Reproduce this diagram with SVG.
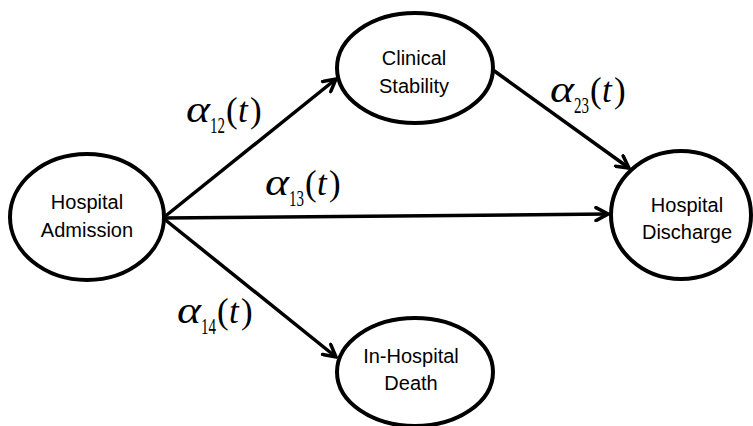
<svg xmlns="http://www.w3.org/2000/svg" width="753" height="426" viewBox="0 0 753 426">
<style>
.node ellipse{fill:#fff;stroke:#000;stroke-width:4}
.lbl{font-family:"Liberation Sans",Arial,sans-serif;font-size:20px;fill:#000;text-anchor:middle}
.edge{stroke:#000;stroke-width:3.5;fill:none}
.math{font-family:"Liberation Serif","Times New Roman",serif;fill:#000;font-size:35px}
.al{font-size:37px;font-style:italic}
.sub{font-size:24px}
.it{font-style:italic}
</style>
<defs>
<marker id="arr" viewBox="0 0 16 16" refX="14" refY="8" markerWidth="16" markerHeight="16" markerUnits="userSpaceOnUse" orient="auto">
<path d="M2,1.5 L14,8 L2,14.5" fill="none" stroke="#000" stroke-width="3.5" stroke-linecap="round" stroke-linejoin="miter"/>
</marker>
</defs>
<rect width="753" height="426" fill="#fff"/>
<g id="connectors">
<line class="edge" x1="163" y1="218" x2="336" y2="79" marker-end="url(#arr)"/>
<line class="edge" x1="163" y1="218" x2="608" y2="214" marker-end="url(#arr)"/>
<line class="edge" x1="163" y1="218" x2="336" y2="357" marker-end="url(#arr)"/>
<line class="edge" x1="493" y1="70" x2="629" y2="168" marker-end="url(#arr)"/>
</g>
<g id="node-admission" class="node">
<ellipse cx="87" cy="217" rx="77" ry="63"/>
<text class="lbl" x="87" y="209">Hospital</text>
<text class="lbl" x="87" y="237">Admission</text>
</g>
<g id="node-clinical" class="node">
<ellipse cx="415" cy="68" rx="78" ry="55"/>
<text class="lbl" x="414" y="65">Clinical</text>
<text class="lbl" x="414" y="93">Stability</text>
</g>
<g id="node-discharge" class="node">
<ellipse cx="681" cy="215" rx="70" ry="64"/>
<text class="lbl" x="687" y="212">Hospital</text>
<text class="lbl" x="687" y="239">Discharge</text>
</g>
<g id="node-death" class="node">
<ellipse cx="415" cy="372" rx="78" ry="54"/>
<text class="lbl" x="411" y="363">In-Hospital</text>
<text class="lbl" x="411" y="390">Death</text>
</g>
<g id="labels">
<text class="math" id="label-12"><tspan class="al" x="186" y="122" textLength="24" lengthAdjust="spacingAndGlyphs">α</tspan><tspan class="sub" x="210" y="133" textLength="15" lengthAdjust="spacingAndGlyphs">12</tspan><tspan x="226" y="122">(</tspan><tspan class="it" x="238" y="122">t</tspan><tspan x="250" y="122">)</tspan></text>
<text class="math" id="label-13"><tspan class="al" x="265" y="195" textLength="24" lengthAdjust="spacingAndGlyphs">α</tspan><tspan class="sub" x="289" y="206" textLength="15" lengthAdjust="spacingAndGlyphs">13</tspan><tspan x="305" y="195">(</tspan><tspan class="it" x="317" y="195">t</tspan><tspan x="329" y="195">)</tspan></text>
<text class="math" id="label-23"><tspan class="al" x="550" y="102" textLength="24" lengthAdjust="spacingAndGlyphs">α</tspan><tspan class="sub" x="574" y="113" textLength="15" lengthAdjust="spacingAndGlyphs">23</tspan><tspan x="590" y="102">(</tspan><tspan class="it" x="602" y="102">t</tspan><tspan x="614" y="102">)</tspan></text>
<text class="math" id="label-14"><tspan class="al" x="177" y="323" textLength="24" lengthAdjust="spacingAndGlyphs">α</tspan><tspan class="sub" x="201" y="334" textLength="15" lengthAdjust="spacingAndGlyphs">14</tspan><tspan x="217" y="323">(</tspan><tspan class="it" x="229" y="323">t</tspan><tspan x="241" y="323">)</tspan></text>
</g>
</svg>
